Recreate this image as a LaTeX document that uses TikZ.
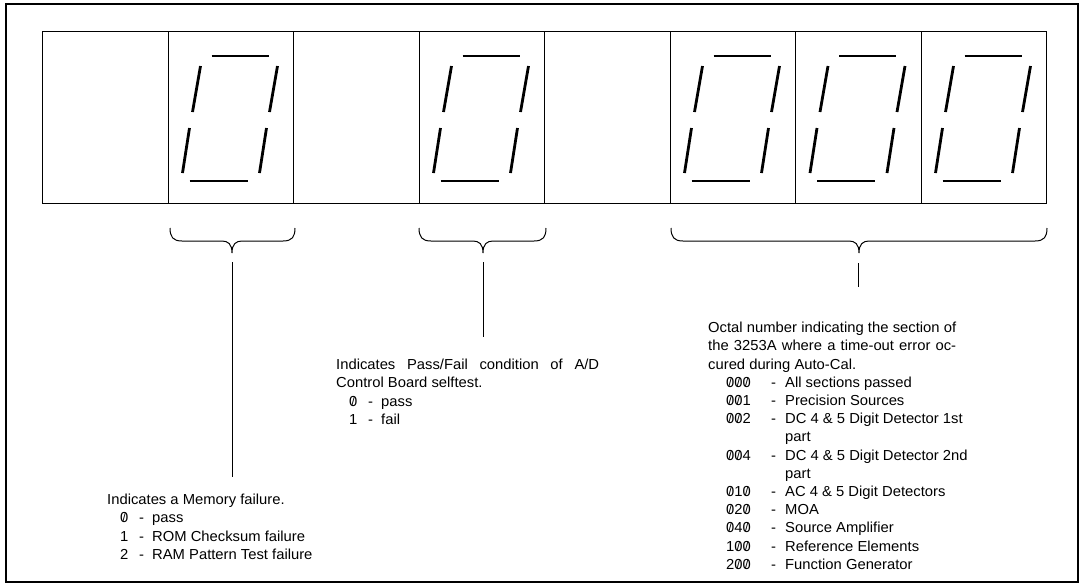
\documentclass[tikz,border=0pt]{standalone}
\usepackage{graphicx}
\usepackage{fontspec}
\setmainfont{Liberation Sans}[FakeStretch=1.02]
\newcommand\slz{\ooalign{0\cr\hidewidth\raisebox{.07em}{\scalebox{.8}{/}}\hidewidth\cr}}
\newcommand\dgt[1]{\makebox[13pt][l]{}\makebox[19pt][l]{#1}\makebox[13pt][l]{-}}
\newcommand\tdgt[1]{\makebox[18pt][l]{}\makebox[45pt][l]{#1}\makebox[14pt][l]{-}}
\tikzset{
  frame/.style={line width=2.2pt},
  cell/.style={draw, line width=1pt, minimum width=125.5pt, minimum height=172pt, inner sep=0pt, anchor=north west},
  seg/.style={line width=2.8pt},
  bracestyle/.style={line width=1pt},
  lead/.style={line width=1pt},
  txt/.style={anchor=north west, inner sep=0pt, align=left, font=\fontsize{14.5}{18.2}\selectfont},
  sevenseg/.pic={
    \draw[seg] (44,56) -- (101,56);
    \draw[seg] (33,66) -- (25,112);
    \draw[seg] (110,66) -- (102,112);
    \draw[seg] (22,128) -- (15,173);
    \draw[seg] (99,128) -- (92,173);
    \draw[seg] (22,181) -- (80,181);
  }
}
\newcommand\curly[3]{% left, tip, right
  \draw[bracestyle] (#1,228) .. controls (#1,237) and (#1+3,241) .. (#1+12,241)
    -- (#2-10,241) .. controls (#2-4,241) and (#2,244) .. (#2,253)
    .. controls (#2,244) and (#2+4,241) .. (#2+10,241)
    -- (#3-12,241) .. controls (#3-3,241) and (#3,237) .. (#3,228);}
\begin{document}
\begin{tikzpicture}[x=1pt,y=-1pt]
\useasboundingbox (0,0) rectangle (1081,584);
\draw[frame] (6,4) rectangle (1078,582);
% display cells
\foreach \i in {0,...,7}{
  \node[cell] (c\i) at ({42+\i*125.5},31) {};
}
\foreach \i in {1,3,5,6,7}{
  \pic at ({42+\i*125.5},0) {sevenseg};
}
% braces
\curly{170}{232}{295}
\curly{419}{483}{546}
\curly{671}{859}{1047}
% leaders
\coordinate (a1) at (232,262);
\coordinate (a2) at (483,262);
\coordinate (a3) at (858,263);
% texts
\node[txt] (t1) at (107,494) {Indicates a Memory failure.\\
\dgt{\slz}pass\\
\dgt{1}ROM Checksum failure\\
\dgt{2}RAM Pattern Test failure};
\node[txt] (t2) at (336,359) {\makebox[263pt][s]{Indicates Pass/Fail condition of A/D}\\
Control Board selftest.\\
\dgt{\slz}pass\\
\dgt{1}fail};
\node[txt] (t3) at (708,322) {\makebox[248pt][s]{Octal number indicating the section of}\\
\makebox[248pt][s]{the 3253A where a time-out error oc-}\\
cured during Auto-Cal.\\
\tdgt{\slz\slz\slz}All sections passed\\
\tdgt{\slz\slz1}Precision Sources\\
\tdgt{\slz\slz2}DC 4 \& 5 Digit Detector 1st\\
\makebox[77pt][l]{}part\\
\tdgt{\slz\slz4}DC 4 \& 5 Digit Detector 2nd\\
\makebox[77pt][l]{}part\\
\tdgt{\slz1\slz}AC 4 \& 5 Digit Detectors\\
\tdgt{\slz2\slz}MOA\\
\tdgt{\slz4\slz}Source Amplifier\\
\tdgt{1\slz\slz}Reference Elements\\
\tdgt{2\slz\slz}Function Generator};
\coordinate (b1) at (232,477);
\coordinate (b2) at (483,337);
\coordinate (b3) at (858,287);
\draw[lead] (a1) -- (b1);
\draw[lead] (a2) -- (b2);
\draw[lead] (a3) -- (b3);
\end{tikzpicture}
\end{document}
